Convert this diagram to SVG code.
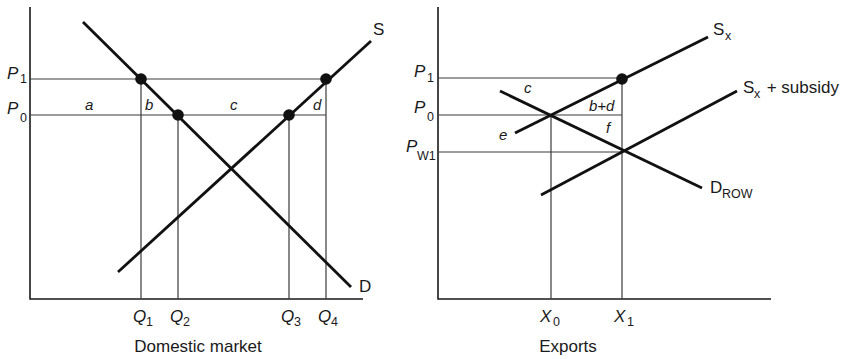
<svg xmlns="http://www.w3.org/2000/svg" width="845" height="359" viewBox="0 0 845 359">
<style>
.ax{stroke:#1a1a1a;stroke-width:1.6;fill:none}
.thin{stroke:#3a3a3a;stroke-width:1.2;fill:none}
.curve{stroke:#111;stroke-width:2.8;fill:none;stroke-linecap:butt}
.dot{fill:#111}
text{font-family:"Liberation Sans",Arial,sans-serif;fill:#1a1a1a}
.lab{font-size:17px;font-style:italic}
.area{font-size:15px;font-style:italic}
.sub{font-size:12.5px;font-style:normal}
.name{font-size:17px}
.cap{font-size:17px}
</style>
<rect width="845" height="359" fill="#fff"/>
<g id="connectors">
<polyline class="ax" points="30,7 30,299 363,299"/>
<line class="thin" x1="30" y1="79" x2="326" y2="79"/>
<line class="thin" x1="30" y1="115" x2="326" y2="115"/>
<line class="thin" x1="141" y1="79" x2="141" y2="299"/>
<line class="thin" x1="178" y1="115" x2="178" y2="299"/>
<line class="thin" x1="289" y1="115" x2="289" y2="299"/>
<line class="thin" x1="326" y1="79" x2="326" y2="299"/>
<line class="curve" x1="83" y1="22" x2="351" y2="287"/>
<line class="curve" x1="118" y1="272" x2="371" y2="41"/>
<polyline class="ax" points="438,7 438,299 771,299"/>
<line class="thin" x1="438" y1="78" x2="622" y2="78"/>
<line class="thin" x1="438" y1="115" x2="622" y2="115"/>
<line class="thin" x1="438" y1="152" x2="622" y2="152"/>
<line class="thin" x1="551" y1="115" x2="551" y2="299"/>
<line class="thin" x1="622" y1="78" x2="622" y2="299"/>
<line class="curve" x1="515" y1="133" x2="708" y2="37"/>
<line class="curve" x1="541" y1="195" x2="737" y2="91"/>
<line class="curve" x1="500" y1="91" x2="702" y2="188"/>
</g>
<g id="dots">
<circle class="dot" cx="141" cy="79" r="5.8"/>
<circle class="dot" cx="178" cy="115" r="5.8"/>
<circle class="dot" cx="289" cy="115" r="5.8"/>
<circle class="dot" cx="326" cy="79" r="5.8"/>
<circle class="dot" cx="622" cy="79" r="5.8"/>
</g>
<g id="left-labels">
<text class="lab" x="7" y="79">P<tspan class="sub" x="20" y="83">1</tspan></text>
<text class="lab" x="7" y="114">P<tspan class="sub" x="20" y="122">0</tspan></text>
<text class="area" x="85" y="110">a</text>
<text class="area" x="145" y="110">b</text>
<text class="area" x="230" y="110">c</text>
<text class="area" x="313" y="110">d</text>
<text class="name" x="373" y="35">S</text>
<text class="name" x="359" y="292">D</text>
<text class="lab" x="133" y="322">Q<tspan class="sub" x="146" y="326">1</tspan></text>
<text class="lab" x="170" y="322">Q<tspan class="sub" x="183" y="326">2</tspan></text>
<text class="lab" x="281" y="322">Q<tspan class="sub" x="294" y="326">3</tspan></text>
<text class="lab" x="318" y="322">Q<tspan class="sub" x="331" y="326">4</tspan></text>
<text class="cap" x="198" y="352" text-anchor="middle">Domestic market</text>
</g>
<g id="right-labels">
<text class="lab" x="414" y="77">P<tspan class="sub" x="427" y="82">1</tspan></text>
<text class="lab" x="414" y="113">P<tspan class="sub" x="427" y="121">0</tspan></text>
<text class="lab" x="406" y="152">P<tspan class="sub" x="417" y="160" font-size="12px">W1</tspan></text>
<text class="area" x="524" y="93">c</text>
<text class="area" x="589" y="111">b+d</text>
<text class="area" x="499" y="140">e</text>
<text class="area" x="606" y="133">f</text>
<text class="name" x="713" y="35">S<tspan class="sub" x="725" y="40">x</tspan></text>
<text class="name" x="743" y="93">S<tspan class="sub" x="754" y="98">x</tspan><tspan x="762" y="93"> + subsidy</tspan></text>
<text class="name" x="710" y="193">D<tspan class="sub" x="722" y="198">ROW</tspan></text>
<text class="lab" x="540" y="322">X<tspan class="sub" x="553" y="326">0</tspan></text>
<text class="lab" x="614" y="322">X<tspan class="sub" x="627" y="326">1</tspan></text>
<text class="cap" x="568" y="352" text-anchor="middle">Exports</text>
</g>
</svg>
